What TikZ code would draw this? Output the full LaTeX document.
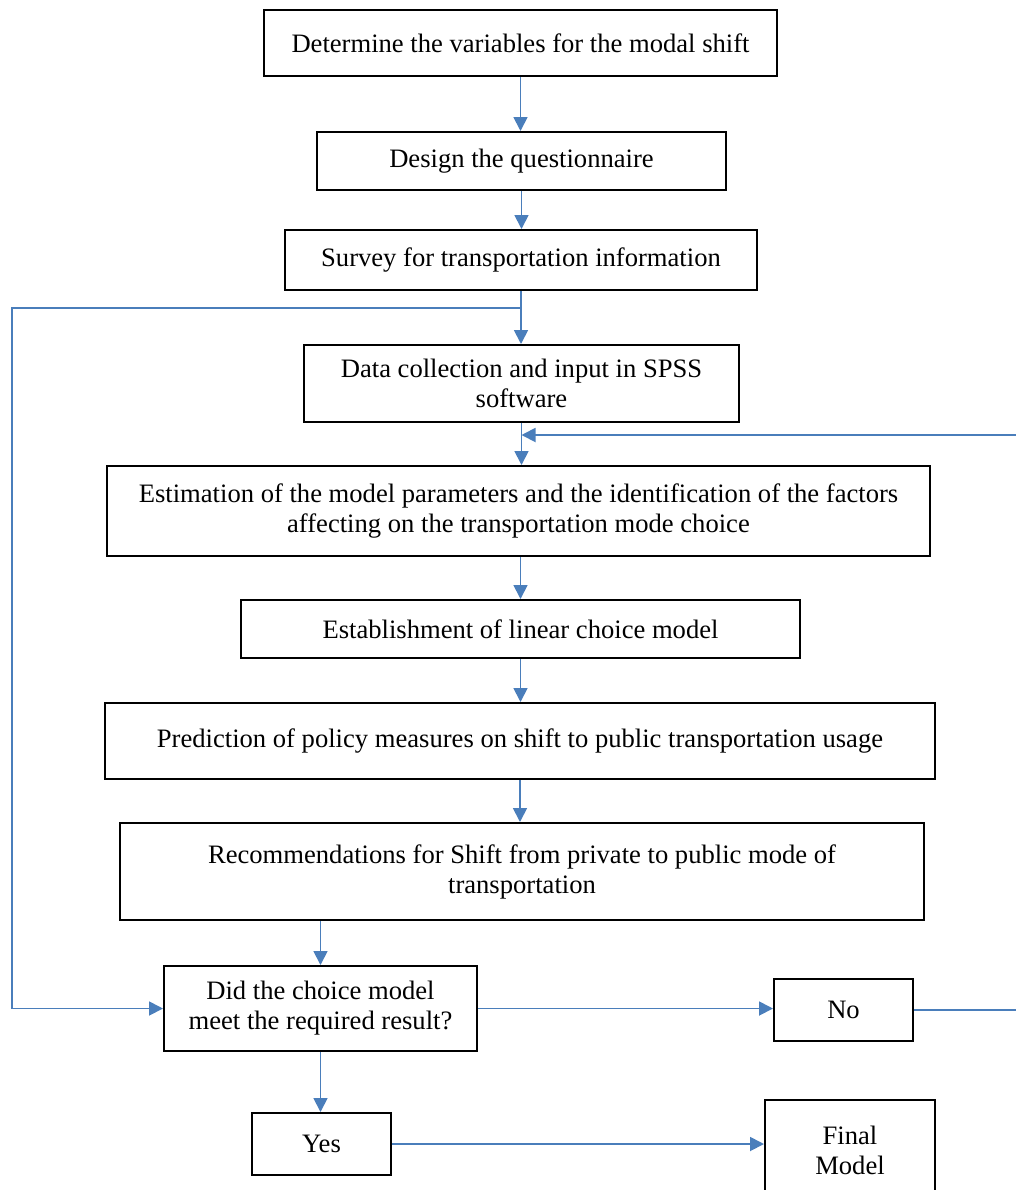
\documentclass[tikz,border=0pt]{standalone}
\usepackage{fontspec}
\setmainfont{Liberation Serif}
\usetikzlibrary{arrows.meta}
\definecolor{flowblue}{RGB}{74,126,187}
\tikzset{
	stepbox/.style={draw, line width=1pt, align=center, inner sep=0pt, font=\fontsize{13.3}{15}\selectfont},
	conn/.style={draw=flowblue, line width=0.9pt, -{Triangle[length=7pt, width=7pt]}, flowblue}
}

\begin{document}
\begin{tikzpicture}[x=0.5pt, y=-0.5pt]
		%%%%% START %%%%%
		\useasboundingbox (0, 0) rectangle (1016, 1190);
		
		\node[stepbox, minimum width=256.5pt, minimum height=33pt] (vars) at (520.5, 43) {Determine the variables for the modal shift};
		\node[stepbox, minimum width=204.5pt, minimum height=29pt] (quest) at (521.5, 161) {Design the questionnaire};
		\node[stepbox, minimum width=236pt, minimum height=30pt] (survey) at (521, 260) {Survey for transportation information};
		\node[stepbox, minimum width=217.5pt, minimum height=38.5pt] (data) at (521.5, 383.5) {Data collection and input in SPSS\\software};
		\node[stepbox, minimum width=411.5pt, minimum height=45pt] (estim) at (518.5, 511) {Estimation of the model parameters and the identification of the factors\\affecting on the transportation mode choice};
		\node[stepbox, minimum width=279.5pt, minimum height=29pt] (linear) at (520.5, 629) {Establishment of linear choice model};
		\node[stepbox, minimum width=415pt, minimum height=38pt] (predict) at (520, 741) {Prediction of policy measures on shift to public transportation usage};
		\node[stepbox, minimum width=402pt, minimum height=48.5pt] (recom) at (522, 871.5) {Recommendations for Shift from private to public mode of\\transportation};
		\node[stepbox, minimum width=156.5pt, minimum height=42.5pt] (check) at (320.5, 1008.5) {Did the choice model\\meet the required result?};
		\node[stepbox, minimum width=69.5pt, minimum height=31pt] (no) at (843.5, 1010) {No};
		\node[stepbox, minimum width=69.5pt, minimum height=31pt] (yes) at (321.5, 1144) {Yes};
		\node[stepbox, minimum width=85pt, minimum height=50pt] (final) at (850, 1150) {Final\\Model};
		
		% loop corners
		\coordinate (lp) at (12, 308);
		\coordinate (rp) at (1022, 435);
		
		\draw[conn] (vars) -- (vars |- quest.north);
		\draw[conn] (quest) -- (quest |- survey.north);
		\draw[conn] (survey) -- (survey |- data.north);
		\draw[conn] (data) -- (data |- estim.north);
		\draw[conn] (estim.south -| linear.north) -- (linear);
		\draw[conn] (linear) -- (linear |- predict.north);
		\draw[conn] (predict) -- (predict |- recom.north);
		\draw[conn] (recom.south -| check.north) -- (check);
		\draw[conn] (check) -- (check.east -| no.west);
		\draw[conn] (check) -- (check |- yes.north);
		\draw[conn] (yes) -- (yes.east -| final.west);
		
		% back to data collection
		\draw[conn] (lp -| data.north) -- (lp) |- (check.west);
		% back to estimation
		\draw[conn] (no.east) -| (rp) -- (rp -| data.south);
		
		%%%%% END %%%%%
	\end{tikzpicture}
\end{document}
